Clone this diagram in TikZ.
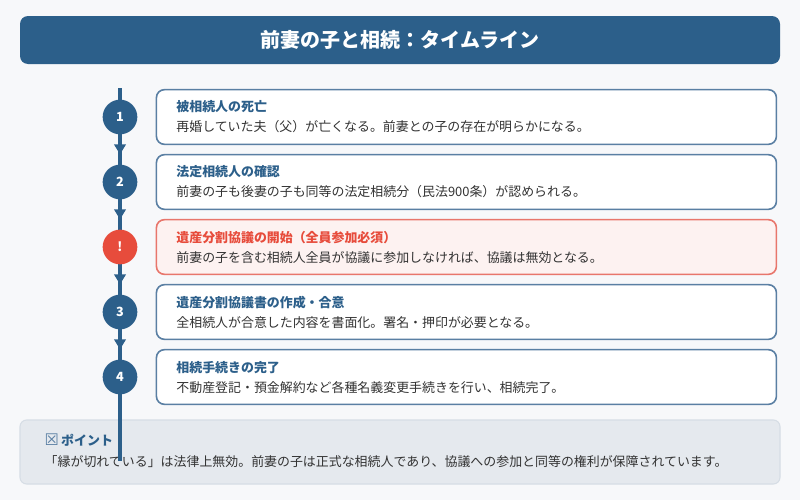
\documentclass[tikz,border=0pt]{standalone}
\usepackage{fontspec}
\setmainfont{Noto Sans CJK JP}
\newfontfamily\symfont{DejaVu Sans}
\usetikzlibrary{positioning,arrows.meta}
\definecolor{navy}{HTML}{2C5F8A}
\definecolor{steel}{HTML}{5A7FA3}
\definecolor{alert}{HTML}{E74C3C}
\definecolor{alertline}{HTML}{E8766C}
\definecolor{alertfill}{HTML}{FDF2F1}
\definecolor{pagebg}{HTML}{F7F8FA}
\definecolor{notefill}{HTML}{E5E9EE}
\definecolor{noteline}{HTML}{D6DDE5}
\definecolor{bodytext}{HTML}{333333}
\tikzset{
    dot/.style={circle,fill=navy,minimum size=26pt,text=white,font=\bfseries\fontsize{9.5}{11}\selectfont},
    alertdot/.style={dot,fill=alert},
    stepbox/.style={draw=steel,line width=1.2pt,fill=white,rounded corners=6pt,
        minimum height=41pt,text width=435pt,inner xsep=15pt,inner ysep=2pt,align=left,
        text=bodytext,font=\fontsize{9.7}{15}\selectfont},
    alertbox/.style={stepbox,draw=alertline,fill=alertfill},
    spine/.style={navy,line width=2.6pt},
    flow/.style={spine,shorten >=7.5pt,-{Triangle[length=7.5pt,width=8.5pt]}}
}
\newcommand{\steptitle}[1]{{\bfseries\color{navy}#1}}
\begin{document}
\begin{tikzpicture}[x=0.75pt,y=-0.75pt]
    \useasboundingbox[fill=pagebg] (0,0) rectangle (800,500);
    \node (head) [fill=navy,rounded corners=6pt,minimum width=570pt,minimum height=36pt,
        text=white,font=\bfseries\fontsize{15}{18}\selectfont] at (400,40) {前妻の子と相続：タイムライン};

    \node (note) [fill=notefill,draw=noteline,line width=0.8pt,rounded corners=5pt,
        minimum width=570pt,minimum height=48pt] at (400,452) {};
    \node (notehead) [anchor=west,text=navy,font=\bfseries\fontsize{9.7}{12}\selectfont]
        at (40,440) {{\symfont\mdseries\fontsize{12}{12}\selectfont\color{steel}☒}\,ポイント};
    \node (notebody) [anchor=west,text=bodytext,font=\fontsize{9.7}{12}\selectfont]
        at (40,462) {「縁が切れている」は法律上無効。前妻の子は正式な相続人であり、協議への参加と同等の権利が保障されています。};

    \coordinate (top) at (120,88);
    \coordinate (bottom) at (120,461);
    \draw[spine] (top) -- (bottom);

    \node (c1) [dot] at (120,117) {1};
    \node (c2) [dot] at (120,182) {2};
    \node (c3) [alertdot] at (120,247) {!};
    \node (c4) [dot] at (120,312) {3};
    \node (c5) [dot] at (120,377) {4};

    \node (b1) [stepbox,right=13.5pt of c1] {\steptitle{被相続人の死亡}\\再婚していた夫（父）が亡くなる。前妻との子の存在が明らかになる。};
    \node (b2) [stepbox,right=13.5pt of c2] {\steptitle{法定相続人の確認}\\前妻の子も後妻の子も同等の法定相続分（民法900条）が認められる。};
    \node (b3) [alertbox,right=13.5pt of c3] {{\bfseries\color{alert}遺産分割協議の開始（全員参加必須）}\\前妻の子を含む相続人全員が協議に参加しなければ、協議は無効となる。};
    \node (b4) [stepbox,right=13.5pt of c4] {\steptitle{遺産分割協議書の作成・合意}\\全相続人が合意した内容を書面化。署名・押印が必要となる。};
    \node (b5) [stepbox,right=13.5pt of c5] {\steptitle{相続手続きの完了}\\不動産登記・預金解約など各種名義変更手続きを行い、相続完了。};

    \draw[flow] (c1) -- (c2);
    \draw[flow] (c2) -- (c3);
    \draw[flow] (c3) -- (c4);
    \draw[flow] (c4) -- (c5);
\end{tikzpicture}
\end{document}
